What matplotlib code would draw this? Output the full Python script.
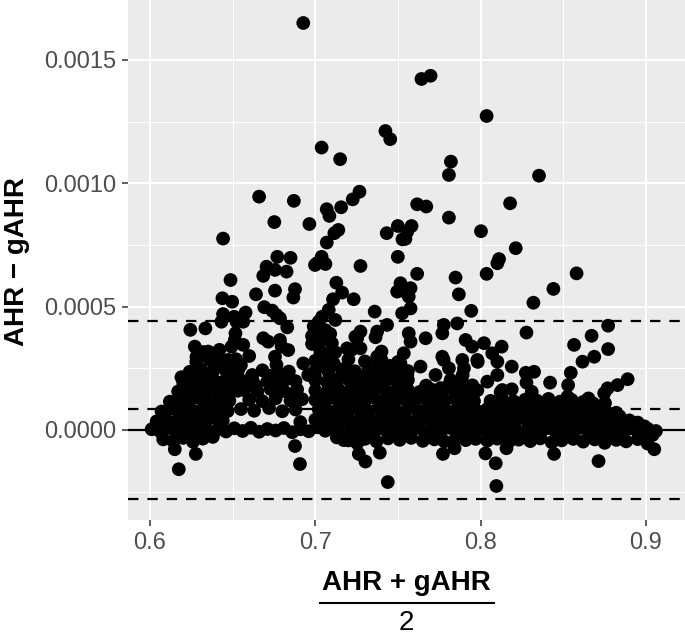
import numpy as np
import matplotlib
matplotlib.use("Agg")
import matplotlib.pyplot as plt
from matplotlib.lines import Line2D

plt.rcParams['font.family'] = ['Liberation Sans', 'DejaVu Sans']

# Each point: (mean = (AHR + gAHR)/2, difference AHR - gAHR in units of 1e-5)
upper_points = [
    (0.6927, 165.0), (0.7424, 121.2), (0.7453, 117.9), (0.7038, 114.5), (0.7150, 109.8),
    (0.6660, 94.6), (0.6870, 92.9), (0.7267, 96.6), (0.7226, 93.5), (0.7156, 90.3),
    (0.7069, 89.5), (0.7085, 86.8), (0.6752, 84.3), (0.6964, 83.5), (0.7139, 81.1),
    (0.7115, 79.8), (0.7069, 76.0), (0.6442, 77.6), (0.7499, 82.7), (0.7432, 79.8),
    (0.7527, 77.3), (0.6770, 70.2), (0.6850, 69.8), (0.7038, 70.2), (0.7499, 70.2),
    (0.7642, 142.3), (0.7697, 143.6), (0.8036, 127.3), (0.7820, 108.8), (0.7808, 103.4),
    (0.8353, 103.1), (0.7616, 91.5), (0.7671, 90.6), (0.8178, 91.9), (0.7808, 86.1),
    (0.7582, 82.7), (0.7556, 80.4), (0.7545, 77.5), (0.8002, 80.6), (0.8212, 73.7),
    (0.8111, 69.3),
]

left_scatter = [
    (0.6705, 66.2), (0.6756, 64.9), (0.6826, 64.2), (0.6685, 62.5), (0.6998, 66.9),
    (0.6487, 60.8), (0.6641, 55.0), (0.6756, 56.5), (0.6877, 57.1), (0.6867, 53.7),
    (0.6438, 53.4), (0.6497, 52.0), (0.6691, 49.8), (0.6739, 48.4), (0.6765, 46.6),
    (0.6786, 45.3), (0.6442, 47.0), (0.6509, 45.9), (0.6578, 47.6), (0.6564, 43.9),
    (0.6523, 43.9), (0.6432, 43.9), (0.6244, 40.6), (0.6335, 41.2), (0.6830, 41.6),
    (0.6517, 39.2), (0.6513, 36.5), (0.6493, 33.8), (0.6564, 34.5), (0.6685, 37.2),
    (0.6715, 35.8), (0.6786, 36.5), (0.6796, 33.8), (0.6836, 32.4), (0.6271, 33.8),
    (0.6281, 29.7), (0.6352, 31.8), (0.6402, 29.7), (0.6412, 26.4), (0.6473, 28.4),
    (0.6513, 27.0), (0.6533, 24.3), (0.6756, 29.7), (0.6765, 26.4), (0.6776, 23.0),
    (0.6816, 20.3), (0.6927, 27.0), (0.6957, 22.3), (0.6998, 21.6), (0.6190, 21.4),
    (0.6200, 17.6), (0.6180, 14.9), (0.6618, 22.3),
]

middle_scatter = [
    (0.7010, 67.6), (0.7061, 67.3), (0.7273, 66.5), (0.7616, 63.3), (0.7848, 61.8),
    (0.7868, 55.0), (0.8036, 63.3), (0.8101, 67.6), (0.7127, 59.7), (0.7162, 55.7),
    (0.7107, 53.0), (0.7232, 53.0), (0.7515, 59.5), (0.7495, 56.1), (0.7576, 57.5),
    (0.7565, 54.1), (0.7545, 56.1), (0.7359, 48.0), (0.7525, 47.3), (0.7576, 49.3),
    (0.7943, 48.3), (0.7081, 48.7), (0.7041, 45.9), (0.7020, 43.9), (0.7121, 44.6),
    (0.7014, 39.9), (0.7434, 42.6), (0.7374, 39.9), (0.7364, 37.6), (0.7273, 39.9),
    (0.7242, 37.8), (0.7777, 42.6), (0.7768, 39.2), (0.7858, 43.2), (0.7565, 39.2),
    (0.7576, 35.8), (0.7667, 37.2), (0.7909, 36.5), (0.7949, 33.8), (0.8020, 35.2),
    (0.8070, 31.1), (0.7980, 28.4), (0.7273, 33.1), (0.7192, 33.1), (0.7253, 37.2),
    (0.7010, 35.2), (0.7030, 30.4), (0.7091, 31.1), (0.7111, 27.0), (0.7020, 26.4),
    (0.7374, 29.7), (0.7374, 26.4), (0.7333, 24.3), (0.7535, 31.1), (0.7515, 27.0),
    (0.7636, 25.7), (0.7556, 22.3), (0.7515, 23.0), (0.7768, 29.7), (0.7808, 25.0),
    (0.7889, 28.4), (0.7899, 25.0), (0.7727, 22.3), (0.7818, 20.3), (0.7879, 19.6),
    (0.8040, 19.6), (0.8101, 22.3), (0.8101, 27.7), (0.7455, 21.0), (0.7273, 21.6),
    (0.7313, 19.6), (0.7212, 23.6), (0.7776, 28.4), (0.7758, 17.0), (0.7891, 22.3),
    (0.7891, 19.1), (0.7982, 27.6), (0.8121, 15.4),
]

right_scatter = [
    (0.8580, 63.5), (0.8440, 57.2), (0.8319, 51.6), (0.8277, 39.5), (0.8771, 42.3),
    (0.8671, 38.2), (0.8771, 32.8), (0.8687, 29.7), (0.8616, 27.7), (0.8565, 34.5),
    (0.8127, 33.8), (0.8188, 25.7), (0.8273, 23.2), (0.8323, 23.6), (0.8277, 19.2),
    (0.8309, 15.5), (0.8131, 16.2), (0.8188, 16.5), (0.8420, 19.2), (0.8545, 23.2),
    (0.8529, 18.2), (0.8525, 13.5), (0.8889, 20.6), (0.8828, 18.2), (0.8768, 16.9),
    (0.8747, 14.9), (0.8652, 12.8), (0.8752, 10.9), (0.8283, 10.8), (0.8374, 10.1),
]

negative_points = [
    (0.6277, -9.7), (0.6174, -15.9), (0.6150, -7.8), (0.6877, -6.5), (0.6907, -13.8),
    (0.7253, -5.4), (0.7263, -9.7), (0.7303, -12.8), (0.7390, -9.2), (0.7438, -21.1),
    (0.7172, -4.1), (0.7772, -9.7), (0.7842, -7.4), (0.8029, -9.5), (0.8091, -13.5),
    (0.8095, -22.7), (0.8156, -7.4), (0.8444, -9.7), (0.8713, -12.6), (0.9050, -7.8),
    (0.6909, 3.2),
]

zero_band = [
    (0.601, 0.3), (0.606, -0.5), (0.611, 0.8), (0.616, -1.0), (0.621, 0.5), (0.626, -0.3),
    (0.631, 1.0), (0.636, -0.8), (0.641, 0.2), (0.646, -0.6), (0.651, 0.7), (0.656, -0.4),
    (0.661, 0.9), (0.666, -0.7), (0.671, 0.4), (0.676, -0.2), (0.681, 0.8), (0.686, -0.9),
    (0.691, 0.3), (0.696, -0.5), (0.701, 1.1), (0.706, -0.3), (0.711, 0.6), (0.716, -0.8),
    (0.721, 0.2), (0.726, -0.6), (0.731, 0.9), (0.736, -0.4), (0.741, 0.5), (0.746, -1.0),
    (0.751, 0.3), (0.756, -0.2), (0.761, 0.8), (0.766, -0.7), (0.771, 0.1), (0.776, -0.5),
    (0.781, 0.9), (0.786, -0.3), (0.791, 0.6), (0.796, -0.8), (0.801, 0.4), (0.806, -0.6),
    (0.811, 0.7), (0.816, -0.2), (0.821, 0.5), (0.826, -0.9), (0.831, 0.3), (0.836, -0.4),
    (0.841, 0.8), (0.846, -0.7), (0.851, 0.2), (0.856, -0.5), (0.861, 0.9), (0.866, -0.3),
    (0.871, 0.6), (0.876, -0.8), (0.881, 0.4), (0.886, -0.6), (0.891, 0.7), (0.896, -0.2),
    (0.901, 0.5), (0.906, -0.4),
]

below_band = [
    (0.608, -3.8), (0.614, -4.5), (0.620, -3.2), (0.626, -4.8), (0.632, -3.5), (0.638, -2.8),
    (0.713, -3.0), (0.720, -4.2), (0.730, -3.6), (0.737, -4.6), (0.744, -3.4), (0.751, -4.0),
    (0.758, -3.2), (0.765, -4.4), (0.772, -3.8), (0.778, -4.6), (0.785, -3.3), (0.791, -4.1),
    (0.797, -3.6), (0.804, -4.3), (0.810, -3.5), (0.817, -4.8), (0.823, -3.9), (0.830, -4.5),
    (0.836, -3.4), (0.843, -5.0), (0.849, -4.2), (0.856, -3.6), (0.862, -4.7), (0.869, -3.8),
    (0.875, -5.2), (0.882, -4.0), (0.888, -4.6), (0.895, -3.7), (0.901, -5.5),
]

band_4 = [
    (0.604, 3.5), (0.609, 4.6), (0.614, 3.2), (0.619, 4.8), (0.624, 3.9), (0.629, 4.4),
    (0.634, 3.6), (0.639, 4.9), (0.644, 3.8),
    (0.700, 4.2), (0.705, 3.5), (0.710, 4.8), (0.715, 3.9), (0.720, 4.5), (0.725, 3.4),
    (0.730, 4.7), (0.735, 3.8), (0.740, 4.4), (0.745, 3.6), (0.750, 4.9), (0.755, 4.0),
    (0.760, 3.5), (0.765, 4.6), (0.770, 3.9), (0.775, 4.3), (0.780, 3.6), (0.785, 4.8),
    (0.790, 4.1), (0.795, 3.7),
    (0.800, 4.4), (0.805, 3.8), (0.810, 4.7), (0.815, 3.5), (0.820, 4.2), (0.825, 4.9),
    (0.830, 3.7), (0.835, 4.5), (0.840, 3.9), (0.845, 4.6), (0.850, 3.6), (0.855, 4.3),
    (0.860, 4.8), (0.865, 3.8), (0.870, 4.4), (0.875, 3.6), (0.880, 4.1), (0.885, 3.4),
    (0.890, 3.9), (0.895, 3.0),
]

band_8 = [
    (0.607, 7.5), (0.612, 8.6), (0.617, 7.8), (0.622, 8.9), (0.627, 7.6), (0.632, 8.4),
    (0.637, 7.9), (0.642, 8.8), (0.647, 7.7),
    (0.655, 8.5), (0.663, 7.8), (0.672, 8.9), (0.680, 7.6), (0.688, 8.3),
    (0.702, 8.4), (0.708, 7.6), (0.714, 8.8), (0.720, 7.9), (0.726, 8.5), (0.732, 7.7),
    (0.738, 8.9), (0.744, 8.1), (0.750, 7.5), (0.756, 8.6), (0.762, 7.8), (0.768, 8.7),
    (0.774, 8.0), (0.780, 7.6), (0.786, 8.8), (0.792, 8.2), (0.798, 7.7),
    (0.804, 8.5), (0.810, 7.9), (0.816, 8.8), (0.822, 8.1), (0.828, 7.6), (0.834, 8.7),
    (0.840, 8.0), (0.846, 8.4), (0.852, 7.7), (0.858, 8.6), (0.864, 7.9), (0.870, 8.3),
    (0.876, 7.4), (0.882, 7.0),
]

band_12 = [
    (0.612, 11.5), (0.618, 12.6), (0.624, 11.8), (0.630, 12.9), (0.636, 11.6), (0.642, 12.4),
    (0.648, 11.9),
    (0.660, 12.3), (0.668, 11.7), (0.676, 12.8), (0.685, 11.9), (0.692, 12.5),
    (0.700, 12.2), (0.706, 11.6), (0.712, 12.8), (0.718, 11.9), (0.724, 12.5), (0.730, 11.7),
    (0.736, 12.9), (0.742, 12.1), (0.748, 11.5), (0.754, 12.6), (0.760, 11.8), (0.766, 12.7),
    (0.772, 12.0), (0.778, 11.6), (0.784, 12.8), (0.790, 12.2), (0.796, 11.7),
    (0.806, 11.8), (0.813, 12.5), (0.820, 11.6), (0.827, 12.3), (0.834, 11.9), (0.841, 12.6),
    (0.848, 11.5), (0.855, 12.2), (0.862, 11.4), (0.868, 10.8),
]

band_16 = [
    (0.617, 15.6), (0.623, 16.5), (0.629, 15.8), (0.635, 16.7), (0.641, 15.5), (0.647, 16.3),
    (0.653, 15.9),
    (0.657, 16.2), (0.665, 15.7), (0.673, 16.6), (0.681, 15.8), (0.689, 16.4),
    (0.700, 16.0), (0.707, 15.5), (0.714, 16.6), (0.721, 15.8), (0.728, 16.4), (0.735, 15.6),
    (0.742, 16.7), (0.749, 15.9), (0.756, 16.3), (0.763, 15.4), (0.770, 16.5), (0.777, 15.7),
    (0.784, 16.2), (0.791, 15.5), (0.798, 16.1),
]

band_20_32 = [
    (0.620, 19.6), (0.626, 20.5), (0.632, 19.8), (0.638, 20.7), (0.644, 19.5), (0.650, 20.3),
    (0.656, 19.9), (0.662, 20.2), (0.671, 19.7), (0.680, 20.6), (0.688, 19.8),
    (0.700, 20.1), (0.707, 19.5), (0.714, 20.6), (0.721, 19.8), (0.728, 20.4), (0.735, 19.6),
    (0.742, 20.7), (0.749, 19.9), (0.756, 20.3),
    (0.624, 23.6), (0.631, 24.5), (0.638, 23.8), (0.645, 24.7), (0.652, 23.5),
    (0.668, 24.2), (0.684, 23.7),
    (0.700, 24.1), (0.708, 23.5), (0.716, 24.6), (0.724, 23.8), (0.732, 24.4), (0.740, 23.6),
    (0.748, 24.7), (0.756, 23.9),
    (0.628, 27.6), (0.636, 28.5), (0.645, 27.8), (0.652, 28.7), (0.700, 28.1), (0.710, 27.5),
    (0.720, 28.6), (0.730, 27.8), (0.740, 28.4), (0.750, 27.6),
    (0.632, 31.6), (0.642, 32.5), (0.703, 32.1), (0.712, 31.5), (0.722, 32.6), (0.740, 31.8),
    (0.698, 34.9), (0.704, 36.5), (0.710, 35.2), (0.698, 38.1), (0.706, 40.5), (0.699, 42.0),
    (0.705, 31.0), (0.709, 39.0),
]

fill_points = [
    (0.615, 10.0), (0.621, 14.0), (0.627, 18.0), (0.633, 14.2), (0.639, 18.3), (0.645, 14.1),
    (0.651, 18.2), (0.634, 22.2), (0.641, 26.0), (0.648, 22.4), (0.655, 26.3), (0.660, 30.0),
    (0.664, 18.0), (0.672, 22.0), (0.677, 18.0), (0.685, 14.5), (0.703, 14.0), (0.711, 18.0),
    (0.718, 14.2), (0.725, 18.2), (0.732, 14.0), (0.739, 18.3), (0.746, 14.1), (0.753, 18.2),
    (0.760, 14.3), (0.767, 18.0), (0.774, 14.2), (0.781, 18.4), (0.788, 14.0), (0.795, 18.1),
    (0.705, 26.0), (0.718, 22.0), (0.733, 22.0), (0.745, 26.0),
]

right_fill = [
    (0.803, 6.2), (0.809, 2.1), (0.814, 6.4), (0.819, 1.9), (0.824, 6.1), (0.829, 2.3),
    (0.834, 6.3), (0.839, 1.8), (0.844, 6.0), (0.849, 2.2), (0.854, 6.4), (0.859, 2.0),
    (0.864, 6.2), (0.869, 1.9), (0.874, 5.9), (0.879, 2.2), (0.884, 5.6), (0.889, 1.8),
    (0.894, 2.0), (0.899, 1.5), (0.904, -2.0),
    (0.806, -2.2), (0.816, -2.4), (0.826, -2.0), (0.836, -2.3), (0.846, -2.1), (0.856, -2.5),
    (0.866, -2.2), (0.876, -2.4), (0.886, -2.1), (0.896, -2.3),
    (0.809, 10.2), (0.817, 10.4), (0.824, 9.9), (0.831, 10.3), (0.845, 10.0), (0.851, 10.2),
]

# Reference lines: upper limit, mean difference, lower limit
limit_lines = [0.000443, 0.0000839, -0.000280]

x_ticks = [0.6, 0.7, 0.8, 0.9]
x_tick_labels = ["0.6", "0.7", "0.8", "0.9"]
x_minor = [0.65, 0.75, 0.85]
y_ticks = [0.0, 0.0005, 0.0010, 0.0015]
y_tick_labels = ["0.0000", "0.0005", "0.0010", "0.0015"]
y_minor = [-0.00025, 0.00025, 0.00075, 0.00125]

groups = [upper_points, left_scatter, middle_scatter, right_scatter, negative_points,
          zero_band, below_band, band_4, band_8, band_12, band_16, band_20_32, fill_points,
          right_fill]
pts = np.array([p for g in groups for p in g])
mean_vals = pts[:, 0]
diff_vals = pts[:, 1] * 1e-5

W, H = 685, 635
fig = plt.figure(figsize=(W / 100, H / 100), dpi=100)
fig.patch.set_facecolor('white')
ax = fig.add_axes([128 / W, 115 / H, 557 / W, 520 / H])
ax.set_facecolor('#EBEBEB')
for s in ax.spines.values():
    s.set_visible(False)

ax.set_xlim(0.58669, 0.92359)
ax.set_ylim(-0.00036486, 0.0017432)

ax.set_xticks(x_ticks)
ax.set_xticklabels(x_tick_labels)
ax.set_xticks(x_minor, minor=True)
ax.set_yticks(y_ticks)
ax.set_yticklabels(y_tick_labels)
ax.set_yticks(y_minor, minor=True)

ax.grid(which='major', color='white', linewidth=1.5)
ax.grid(which='minor', color='white', linewidth=0.75)
ax.set_axisbelow(True)

ax.tick_params(which='major', length=4.5, width=1.1, color='#333333',
               labelsize=17, labelcolor='#4D4D4D', pad=4)
ax.tick_params(which='minor', length=0)

ax.scatter(mean_vals, diff_vals, s=98, color='black', edgecolors='none', zorder=3)

ax.axhline(0, color='black', linewidth=1.6, zorder=4)
for v in limit_lines:
    ax.axhline(v, color='black', linewidth=1.6, linestyle=(0, (4.7, 4.0)), zorder=4)

# axis titles
fig.text(17 / W, 1 - 262 / H, "AHR \u2212 gAHR", rotation=90, fontsize=20,
         fontweight='bold', ha='center', va='center')
fig.text(406.5 / W, 1 - 590 / H, "AHR + gAHR", fontsize=20, fontweight='bold',
         ha='center', va='baseline')
fig.add_artist(Line2D([320 / W, 494 / W], [1 - 603 / H, 1 - 603 / H],
                      transform=fig.transFigure, color='black', linewidth=1.5))
fig.text(406.5 / W, 1 - 630 / H, "2", fontsize=20, ha='center', va='baseline')

fig.savefig('out.png', dpi=100)
